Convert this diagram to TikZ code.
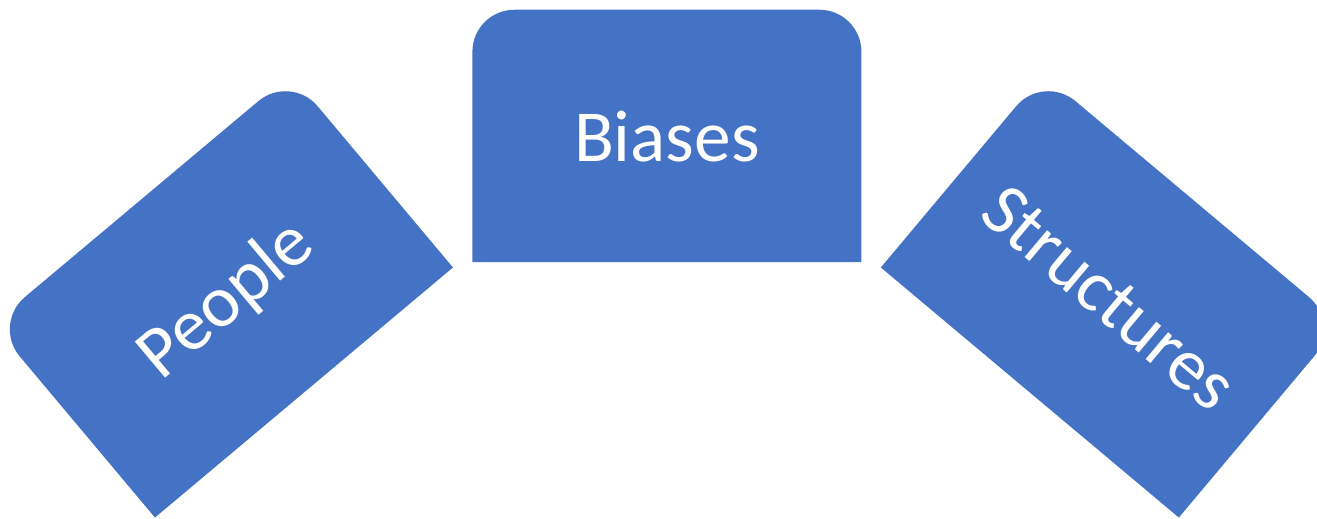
\documentclass[tikz,border=0pt]{standalone}
\usepackage{xcolor}
\usepackage{fontspec}
\setmainfont{Carlito}
\usetikzlibrary{calc,positioning}
\definecolor{tabblue}{HTML}{4472C4}
\tikzset{
  tab/.style={fill=tabblue, draw=none},
  tablabel/.style={text=white, font=\fontsize{55}{66}\selectfont, anchor=base, inner sep=0pt}
}

\begin{document}
\begin{tikzpicture}[x=0.75pt,y=0.75pt]

                % Frame of the picture.
                \clip (0,0) rectangle (1317,518);

                % Left tab, tilted to the left.
                \begin{scope}[shift={(222.8,222.2)},rotate=40]
                    \fill[tab] (-194.5,-126.25) -- (-194.5,84.25)
                        arc[start angle=180,end angle=90,radius=42] -- (152.5,126.25)
                        arc[start angle=90,end angle=0,radius=42] -- (194.5,-126.25) -- cycle;
                    \node[tablabel,rotate=40] (people) at (0,-26) {People};
                \end{scope}

                % Middle tab.
                \begin{scope}[shift={(666.9,382)}]
                    \fill[tab] (-194.5,-126.25) -- (-194.5,84.25)
                        arc[start angle=180,end angle=90,radius=42] -- (152.5,126.25)
                        arc[start angle=90,end angle=0,radius=42] -- (194.5,-126.25) -- cycle;
                    \node[tablabel] (biases) at (0,-26) {Biases};
                \end{scope}

                % Right tab, tilted to the right.
                \begin{scope}[shift={(1111,222.2)},rotate=-40]
                    \fill[tab] (-194.5,-126.25) -- (-194.5,84.25)
                        arc[start angle=180,end angle=90,radius=42] -- (152.5,126.25)
                        arc[start angle=90,end angle=0,radius=42] -- (194.5,-126.25) -- cycle;
                    \node[tablabel,rotate=-40] (structures) at (0,-26) {Structures};
                \end{scope}
\end{tikzpicture}
\end{document}
